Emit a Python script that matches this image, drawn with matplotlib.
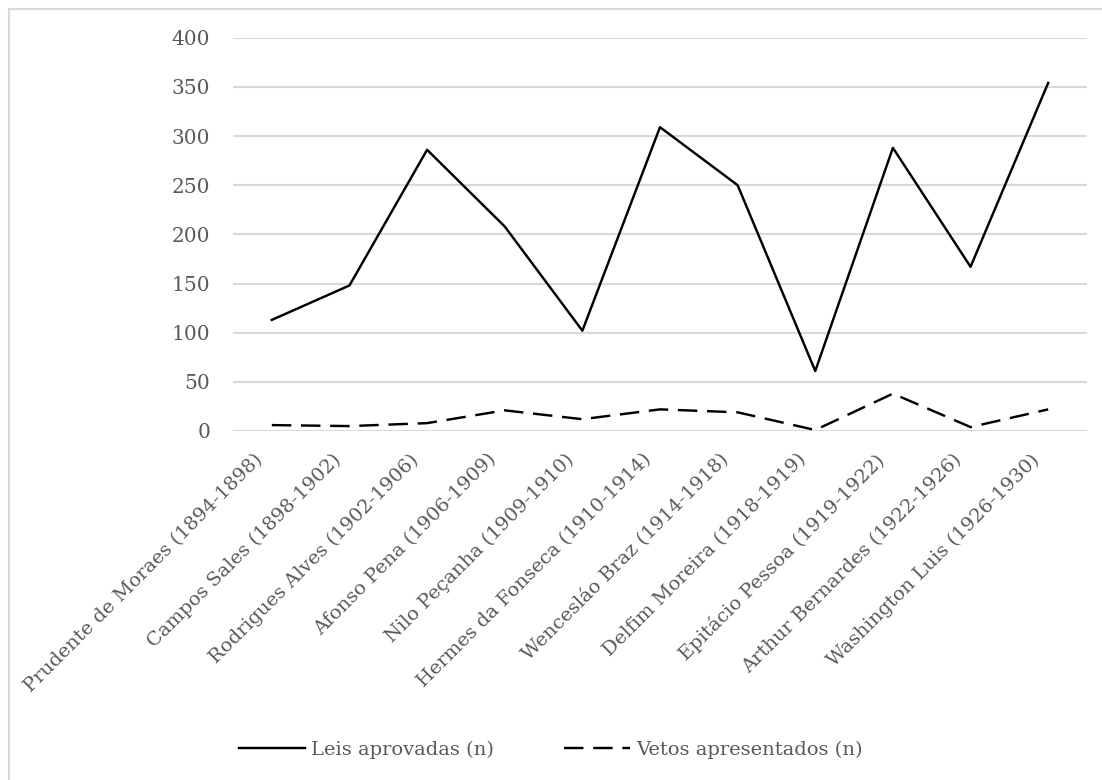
import matplotlib
matplotlib.use("Agg")
import matplotlib.pyplot as plt
import matplotlib.transforms as mtransforms
from matplotlib.lines import Line2D

presidentes = [
    "Prudente de Moraes (1894-1898)",
    "Campos Sales (1898-1902)",
    "Rodrigues Alves (1902-1906)",
    "Afonso Pena (1906-1909)",
    "Nilo Peçanha (1909-1910)",
    "Hermes da Fonseca (1910-1914)",
    "Wencesláo Braz (1914-1918)",
    "Delfim Moreira (1918-1919)",
    "Epitácio Pessoa (1919-1922)",
    "Arthur Bernardes (1922-1926)",
    "Washington Luis (1926-1930)",
]
leis = [113, 148, 286, 208, 102, 309, 250, 61, 288, 167, 354]
vetos = [6, 5, 8, 21, 12, 22, 19, 1, 38, 4, 22]
yticks = [0, 50, 100, 150, 200, 250, 300, 350, 400]

TXT = "#595959"
GRID = "#d9d9d9"
plt.rcParams["font.family"] = ["DejaVu Serif"]

W, H = 1102, 780
fig = plt.figure(figsize=(W / 100, H / 100), dpi=100)
ax = fig.add_axes([233 / W, 1 - 431 / H, (1087 - 233) / W, (431 - 37.7) / H])

x = list(range(len(presidentes)))
ax.plot(x, leis, color="black", lw=1.75, label="Leis aprovadas (n)")
ax.plot(x, vetos, color="black", lw=1.75, linestyle=(0, (8, 4)),
        label="Vetos apresentados (n)")

ax.set_xlim(-0.5, len(presidentes) - 0.5)
ax.set_ylim(0, 400)
ax.set_yticks(yticks)
ax.yaxis.grid(True, color=GRID, lw=1.5)
ax.set_axisbelow(True)
for s in ax.spines.values():
    s.set_visible(False)
ax.tick_params(axis="both", length=0, colors=TXT)
ax.tick_params(axis="y", pad=16.5, labelsize=14.5)
ax.set_xticks(x)
ax.set_xticklabels(presidentes, rotation=45, ha="right", va="top",
                   rotation_mode="anchor", fontsize=14)
ax.tick_params(axis="x", pad=14)
# nudge the rotated labels left so their ends sit just left of each point
shift = mtransforms.ScaledTranslation(-18 / 100, 0, fig.dpi_scale_trans)
for lab in ax.get_xticklabels():
    lab.set_transform(lab.get_transform() + shift)

# chart-area border (only left and top edges visible in the original)
fig.add_artist(Line2D([8.5 / W, 8.5 / W], [0, 1 - 8.5 / H], transform=fig.transFigure,
                      color=GRID, lw=1.5))
fig.add_artist(Line2D([8.5 / W, 1], [1 - 8.5 / H, 1 - 8.5 / H], transform=fig.transFigure,
                      color=GRID, lw=1.5))

leg = fig.legend(loc="center", bbox_to_anchor=(0.5, 1 - 750 / H), ncol=2, frameon=False,
                 fontsize=14, handlelength=3.4, handletextpad=0.3, columnspacing=3.6)
for t in leg.get_texts():
    t.set_color(TXT)

fig.savefig("out.png", dpi=100, facecolor="white")
